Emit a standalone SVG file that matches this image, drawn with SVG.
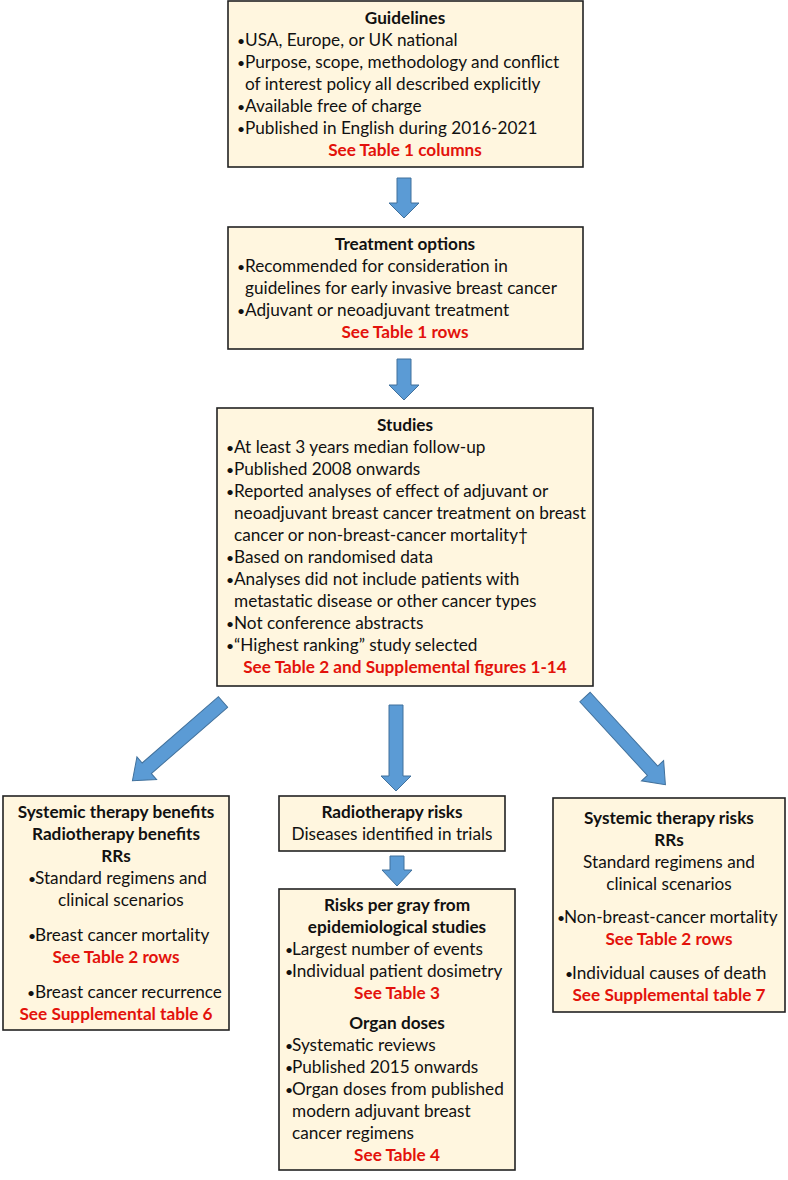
<svg xmlns="http://www.w3.org/2000/svg" width="788" height="1180" viewBox="0 0 788 1180">
<style>
.box{fill:#FFF6DF;stroke:#222;stroke-width:1.6}
.t{font-family:Lato,"Liberation Sans",sans-serif;font-size:17.2px;fill:#111}
.bl{font-size:14px}
.b{font-weight:bold}
.r{font-weight:bold;fill:#E3120B}
.c{text-anchor:middle}
.arr{fill:#5B9BD5;stroke:#41719C;stroke-width:1}
</style>
<rect width="788" height="1180" fill="#fff"/>
<g id="guidelines">
<rect class="box" x="228" y="1" width="355" height="166"/>
<text class="t b c" x="405" y="24">Guidelines</text>
<text class="t" y="46"><tspan class="bl" x="237">•</tspan><tspan x="245">USA, Europe, or UK national</tspan></text>
<text class="t" y="68"><tspan class="bl" x="237">•</tspan><tspan x="245">Purpose, scope, methodology and conflict</tspan></text>
<text class="t" x="245" y="90">of interest policy all described explicitly</text>
<text class="t" y="112"><tspan class="bl" x="237">•</tspan><tspan x="245">Available free of charge</tspan></text>
<text class="t" y="134"><tspan class="bl" x="237">•</tspan><tspan x="245">Published in English during 2016-2021</tspan></text>
<text class="t r c" x="405" y="156">See Table 1 columns</text>
</g>
<g id="treatment">
<rect class="box" x="228" y="227" width="355" height="122"/>
<text class="t b c" x="405" y="250">Treatment options</text>
<text class="t" y="272"><tspan class="bl" x="237">•</tspan><tspan x="245">Recommended for consideration in</tspan></text>
<text class="t" x="245" y="294">guidelines for early invasive breast cancer</text>
<text class="t" y="316"><tspan class="bl" x="237">•</tspan><tspan x="245">Adjuvant or neoadjuvant treatment</tspan></text>
<text class="t r c" x="405" y="338">See Table 1 rows</text>
</g>
<g id="studies">
<rect class="box" x="217" y="408" width="376" height="278"/>
<text class="t b c" x="405" y="431">Studies</text>
<text class="t" y="453"><tspan class="bl" x="226">•</tspan><tspan x="234">At least 3 years median follow-up</tspan></text>
<text class="t" y="475"><tspan class="bl" x="226">•</tspan><tspan x="234">Published 2008 onwards</tspan></text>
<text class="t" y="497"><tspan class="bl" x="226">•</tspan><tspan x="234">Reported analyses of effect of adjuvant or</tspan></text>
<text class="t" x="234" y="519">neoadjuvant breast cancer treatment on breast</text>
<text class="t" x="234" y="541">cancer or non-breast-cancer mortality†</text>
<text class="t" y="563"><tspan class="bl" x="226">•</tspan><tspan x="234">Based on randomised data</tspan></text>
<text class="t" y="585"><tspan class="bl" x="226">•</tspan><tspan x="234">Analyses did not include patients with</tspan></text>
<text class="t" x="234" y="607">metastatic disease or other cancer types</text>
<text class="t" y="629"><tspan class="bl" x="226">•</tspan><tspan x="234">Not conference abstracts</tspan></text>
<text class="t" y="651"><tspan class="bl" x="226">•</tspan><tspan x="234">“Highest ranking” study selected</tspan></text>
<text class="t r c" x="405" y="673">See Table 2 and Supplemental figures 1-14</text>
</g>
<g id="benefits">
<rect class="box" x="3" y="796" width="226" height="234"/>
<text class="t b c" x="116" y="818">Systemic therapy benefits</text>
<text class="t b c" x="116" y="840">Radiotherapy benefits</text>
<text class="t b c" x="116" y="862">RRs</text>
<text class="t" y="884"><tspan class="bl" x="28">•</tspan><tspan x="35">Standard regimens and</tspan></text>
<text class="t" x="58" y="906">clinical scenarios</text>
<text class="t" y="941"><tspan class="bl" x="28">•</tspan><tspan x="35">Breast cancer mortality</tspan></text>
<text class="t r c" x="116" y="963">See Table 2 rows</text>
<text class="t" y="998"><tspan class="bl" x="27">•</tspan><tspan x="35">Breast cancer recurrence</tspan></text>
<text class="t r c" x="116" y="1020">See Supplemental table 6</text>
</g>
<g id="rt-risks">
<rect class="box" x="279" y="796" width="226" height="55"/>
<text class="t b c" x="392" y="818">Radiotherapy risks</text>
<text class="t c" x="392" y="840">Diseases identified in trials</text>
</g>
<g id="risks-per-gray">
<rect class="box" x="279" y="889" width="236" height="281"/>
<text class="t b c" x="397" y="911">Risks per gray from</text>
<text class="t b c" x="397" y="933">epidemiological studies</text>
<text class="t" y="955"><tspan class="bl" x="285">•</tspan><tspan x="292">Largest number of events</tspan></text>
<text class="t" y="977"><tspan class="bl" x="285">•</tspan><tspan x="292">Individual patient dosimetry</tspan></text>
<text class="t r c" x="397" y="999">See Table 3</text>
<text class="t b c" x="397" y="1029">Organ doses</text>
<text class="t" y="1051"><tspan class="bl" x="285">•</tspan><tspan x="292">Systematic reviews</tspan></text>
<text class="t" y="1073"><tspan class="bl" x="285">•</tspan><tspan x="292">Published 2015 onwards</tspan></text>
<text class="t" y="1095"><tspan class="bl" x="285">•</tspan><tspan x="292">Organ doses from published</tspan></text>
<text class="t" x="292" y="1117">modern adjuvant breast</text>
<text class="t" x="292" y="1139">cancer regimens</text>
<text class="t r c" x="397" y="1161">See Table 4</text>
</g>
<g id="st-risks">
<rect class="box" x="553" y="798" width="232" height="214"/>
<text class="t b c" x="669" y="824">Systemic therapy risks</text>
<text class="t b c" x="669" y="846">RRs</text>
<text class="t c" x="669" y="868">Standard regimens and</text>
<text class="t c" x="669" y="890">clinical scenarios</text>
<text class="t" y="923"><tspan class="bl" x="557">•</tspan><tspan x="564">Non-breast-cancer mortality</tspan></text>
<text class="t r c" x="669" y="945">See Table 2 rows</text>
<text class="t" y="979"><tspan class="bl" x="565">•</tspan><tspan x="572">Individual causes of death</tspan></text>
<text class="t r c" x="669" y="1001">See Supplemental table 7</text>
</g>
<g id="connectors">
<polygon class="arr" points="397,178 411,178 411,203 419,203 404,218 389,203 397,203"/>
<polygon class="arr" points="397,359 411,359 411,385 419,385 404,400 389,385 397,385"/>
<polygon class="arr" points="389,705 403,705 403,776 411,776 396,791 381,776 389,776"/>
<polygon class="arr" points="390,856 404,856 404,870 412,870 397,886 382,870 390,870"/>
<polygon class="arr" transform="translate(223,702) rotate(139)" points="0,-7 101,-7 101,-15 120,0 101,15 101,7 0,7"/>
<polygon class="arr" transform="translate(585,697) rotate(47.5)" points="0,-7 100,-7 100,-15 119,0 100,15 100,7 0,7"/>
</g>
</svg>
